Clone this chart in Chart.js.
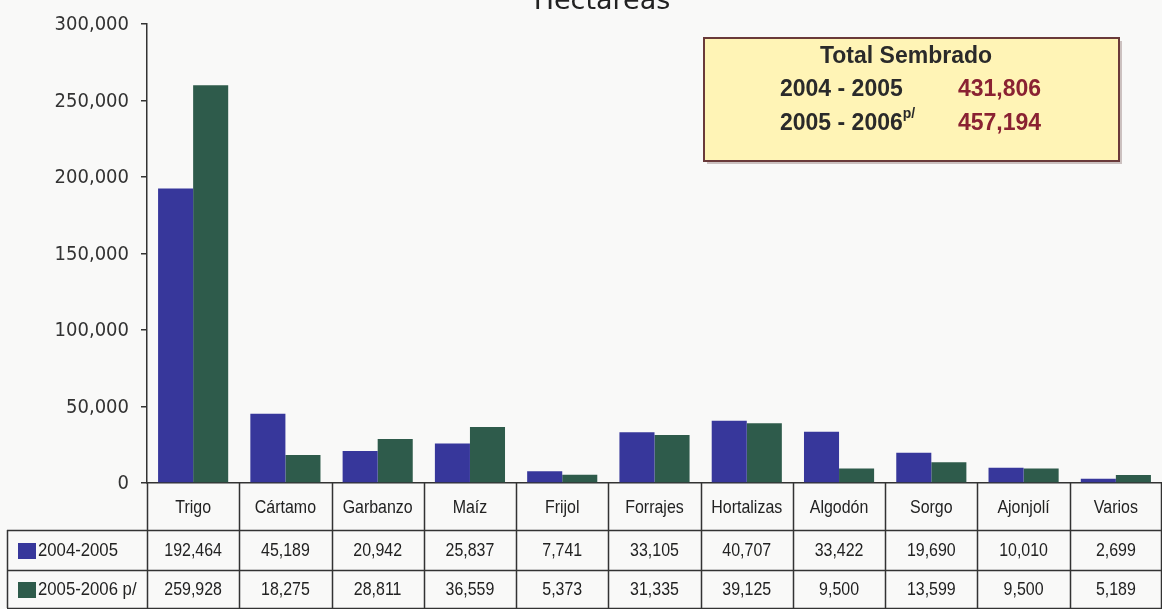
<!DOCTYPE html>
<html>
<head>
<meta charset="utf-8">
<script src="https://cdn.jsdelivr.net/npm/chart.js@4.4.1/dist/chart.umd.min.js"></script>
<style>
html,body{margin:0;padding:0;background:#f9f9f8;}
#wrap{width:1162px;height:609px;position:relative;}
</style>
</head>
<body>
<div id="wrap"><canvas id="c" width="1162" height="609"></canvas></div>
<script>
const categories = ["Trigo","Cártamo","Garbanzo","Maíz","Frijol","Forrajes","Hortalizas","Algodón","Sorgo","Ajonjolí","Varios"];
const series1Label = "2004-2005";
const series2Label = "2005-2006 p/";
const series1 = [192464,45189,20942,25837,7741,33105,40707,33422,19690,10010,2699];
const series2 = [259928,18275,28811,36559,5373,31335,39125,9500,13599,9500,5189];
const yTicks = [0,50000,100000,150000,200000,250000,300000];
const chartTitle = "Hectareas";
const totalTitle = "Total Sembrado";
const totalLabels = ["2004 - 2005","2005 - 2006"];
const totalValues = [431806,457194];

const BLUE = '#37379b';
const GREEN = '#2e5b4b';
const fmt = v => v.toLocaleString('en-US');

function narrowText(ctx, text, x, y, sx, align){
  ctx.save();
  ctx.translate(x, y);
  ctx.scale(sx, 1);
  ctx.textAlign = align;
  ctx.fillText(text, 0, 0);
  ctx.restore();
}

const tablePlugin = {
  id:'tablePlugin',
  afterDraw(chart){
    const ctx = chart.ctx;
    const x = chart.scales.x, y = chart.scales.y;
    const ca = chart.chartArea;
    const y0 = ca.bottom;
    const r1 = 530, r2 = 570, r3 = 608;
    const n = categories.length;
    const half = (x.getPixelForValue(1)-x.getPixelForValue(0))/2;
    ctx.save();

    // y tick labels (condensed)
    ctx.fillStyle = '#333';
    ctx.font = '20px "DejaVu Sans", Verdana, sans-serif';
    ctx.textBaseline = 'middle';
    yTicks.forEach(v => narrowText(ctx, fmt(v), 129, y.getPixelForValue(v)+1, 0.9, 'right'));

    ctx.strokeStyle = '#333';
    ctx.lineWidth = 1.5;
    ctx.beginPath();
    for(let i=0;i<=n;i++){
      let px = i<n ? x.getPixelForValue(i)-half : x.getPixelForValue(n-1)+half-1;
      px = Math.round(px)+0.5;
      ctx.moveTo(px, y0); ctx.lineTo(px, r3);
    }
    ctx.moveTo(7.5, r1); ctx.lineTo(7.5, r3);
    ctx.moveTo(7, r1+0.5); ctx.lineTo(ca.right, r1+0.5);
    ctx.moveTo(7, r2+0.5); ctx.lineTo(ca.right, r2+0.5);
    ctx.moveTo(7, r3+0.5); ctx.lineTo(ca.right, r3+0.5);
    ctx.stroke();

    ctx.fillStyle = '#222';
    ctx.font = '19px "Liberation Sans", Arial, sans-serif';
    ctx.textBaseline = 'middle';
    for(let i=0;i<n;i++){
      const cx = x.getPixelForValue(i);
      narrowText(ctx, categories[i], cx, (y0+r1)/2+1, 0.84, 'center');
      narrowText(ctx, fmt(series1[i]), cx, (r1+r2)/2+1, 0.84, 'center');
      narrowText(ctx, fmt(series2[i]), cx, (r2+r3)/2+1, 0.84, 'center');
    }
    // legend cells
    ctx.fillStyle = BLUE;
    ctx.fillRect(18, 543, 18, 16);
    ctx.fillStyle = GREEN;
    ctx.fillRect(18, 582, 18, 16);
    ctx.fillStyle = '#222';
    narrowText(ctx, series1Label, 38, (r1+r2)/2+1, 0.88, 'left');
    narrowText(ctx, series2Label, 38, (r2+r3)/2+1, 0.88, 'left');

    // title
    ctx.textAlign = 'center';
    ctx.textBaseline = 'alphabetic';
    ctx.font = '27px "DejaVu Sans", Verdana, sans-serif';
    ctx.fillStyle = '#222';
    ctx.fillText(chartTitle, 602, 9);

    // total box
    const bx=704, by=38, bw=415, bh=123;
    ctx.fillStyle = 'rgba(120,90,90,0.35)';
    ctx.fillRect(bx+3, by+3, bw, bh);
    ctx.fillStyle = '#fff4b6';
    ctx.fillRect(bx, by, bw, bh);
    ctx.strokeStyle = '#6a3a3a';
    ctx.lineWidth = 2;
    ctx.strokeRect(bx, by, bw, bh);
    ctx.font = 'bold 23px "Liberation Sans", Arial, sans-serif';
    ctx.fillStyle = '#2a2a2a';
    ctx.textAlign = 'center';
    ctx.fillText(totalTitle, 906, 63);
    ctx.textAlign = 'left';
    ctx.fillText(totalLabels[0], 780, 96);
    ctx.fillText(totalLabels[1], 780, 130);
    const w2 = ctx.measureText(totalLabels[1]).width;
    ctx.font = 'bold 14px "Liberation Sans", Arial, sans-serif';
    ctx.fillText('p/', 780+w2, 118);
    ctx.font = 'bold 23px "Liberation Sans", Arial, sans-serif';
    ctx.fillStyle = '#8a2232';
    ctx.fillText(fmt(totalValues[0]), 958, 96);
    ctx.fillText(fmt(totalValues[1]), 958, 130);
    ctx.restore();
  }
};

new Chart(document.getElementById('c'), {
  type:'bar',
  data:{
    labels: categories,
    datasets:[
      {label: series1Label, data: series1, backgroundColor: BLUE, categoryPercentage:0.76, barPercentage:1.0},
      {label: series2Label, data: series2, backgroundColor: GREEN, categoryPercentage:0.76, barPercentage:1.0}
    ]
  },
  options:{
    responsive:false,
    animation:false,
    devicePixelRatio:1,
    layout:{padding:{top:24,left:0,right:0,bottom:0}},
    plugins:{legend:{display:false},title:{display:false},tooltip:{enabled:false}},
    scales:{
      x:{
        border:{display:true,color:'#333',width:1.5},
        grid:{display:false},
        ticks:{display:false},
        afterFit(s){ s.height = 126; }
      },
      y:{
        min:0,max:300000,
        afterBuildTicks(s){ s.ticks = yTicks.map(v=>({value:v})); },
        afterFit(s){ s.width = 147; },
        border:{display:true,color:'#333',width:1.5},
        grid:{drawOnChartArea:false,drawTicks:true,tickLength:6,color:'#333',lineWidth:1.5},
        ticks:{padding:12,color:'rgba(0,0,0,0)',font:{family:'"DejaVu Sans", Verdana, sans-serif',size:17},
          callback:(v)=>fmt(v)}
      }
    }
  },
  plugins:[tablePlugin]
});
</script>
</body>
</html>
